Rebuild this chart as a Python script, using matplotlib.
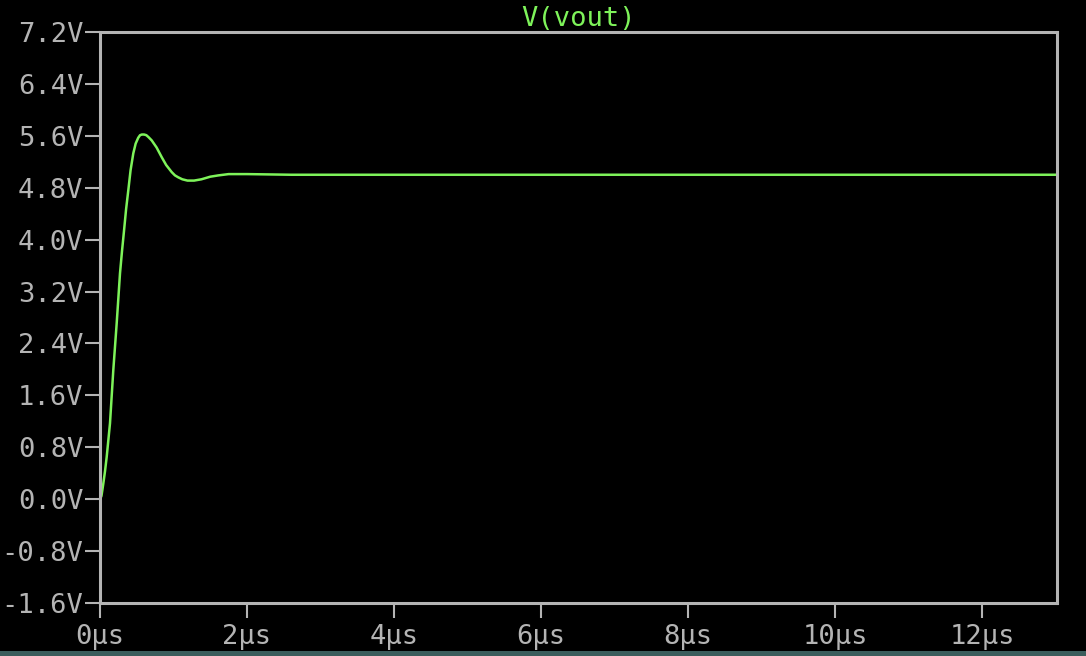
# Respuesta transitoria V(vout) estilo LTspice
import matplotlib.pyplot as plt
from matplotlib.patches import Rectangle

# Datos (tiempo en µs, tensión en V)
time_us = [0.0, 0.02, 0.045, 0.068, 0.091, 0.136, 0.181, 0.227, 0.272, 0.30,
           0.327, 0.355, 0.385, 0.416, 0.453, 0.485, 0.52, 0.545, 0.57, 0.60,
           0.63, 0.66, 0.703, 0.77, 0.84, 0.90, 0.976, 1.02, 1.065, 1.12,
           1.19, 1.28, 1.38, 1.50, 1.61, 1.75, 2.0, 2.6, 4.0, 6.0,
           8.0, 10.0, 12.0, 13.0]
vout = [0.0, 0.05, 0.24, 0.43, 0.65, 1.17, 1.99, 2.71, 3.48, 3.83,
        4.14, 4.47, 4.76, 5.07, 5.33, 5.48, 5.57, 5.61, 5.62, 5.62,
        5.61, 5.58, 5.53, 5.42, 5.27, 5.15, 5.04, 4.99, 4.96, 4.93,
        4.91, 4.91, 4.93, 4.97, 4.99, 5.01, 5.01, 5.00, 5.00, 5.00,
        5.00, 5.00, 5.00, 5.00]

y_ticks = [-1.6, -0.8, 0.0, 0.8, 1.6, 2.4, 3.2, 4.0, 4.8, 5.6, 6.4, 7.2]
y_labels = ['-1.6V', '-0.8V', '0.0V', '0.8V', '1.6V', '2.4V', '3.2V',
            '4.0V', '4.8V', '5.6V', '6.4V', '7.2V']
x_ticks = [0, 2, 4, 6, 8, 10, 12]
x_labels = ['0µs', '2µs', '4µs', '6µs', '8µs', '10µs', '12µs']

green = '#7ef35a'
gray = '#b4b4b4'

plt.rcParams['font.family'] = ['DejaVu Sans Mono']

fig = plt.figure(figsize=(10.86, 6.56), dpi=100, facecolor='black')
# franja del escritorio en el borde inferior
fig.patches.append(Rectangle((0, 0), 1, 5 / 656, transform=fig.transFigure,
                             facecolor='#3b5d5c', edgecolor='none', zorder=0))

ax = fig.add_axes([100 / 1086, 53 / 656, 957 / 1086, 571 / 656])
ax.set_facecolor('black')

ax.plot(time_us, vout, color=green, linewidth=1.8)

ax.set_xlim(0, 13.02)
ax.set_ylim(-1.6, 7.2)
ax.set_xticks(x_ticks)
ax.set_xticklabels(x_labels)
ax.set_yticks(y_ticks)
ax.set_yticklabels(y_labels)

for s in ax.spines.values():
    s.set_color(gray)
    s.set_linewidth(2.2)

ax.tick_params(colors=gray, labelsize=19.5, length=11, width=1.5,
               direction='out', pad=1)
ax.tick_params(axis='x', pad=4)

ax.set_title('V(vout)', color=green, fontsize=19.5, pad=4)

fig.savefig('out.png', dpi=100, facecolor=fig.get_facecolor())
